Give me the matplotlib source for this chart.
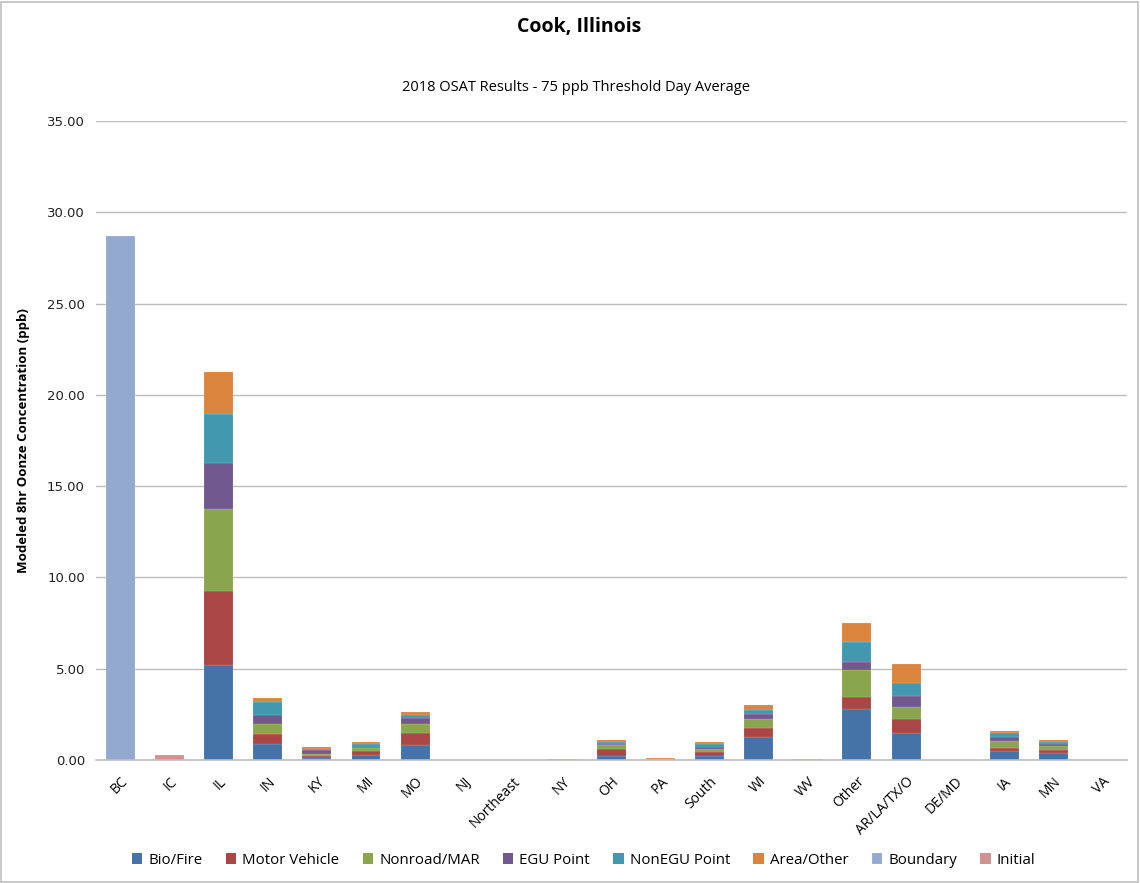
import matplotlib.pyplot as plt
import numpy as np
from matplotlib.patches import Rectangle

regions = ["BC", "IC", "IL", "IN", "KY", "MI", "MO", "NJ", "Northeast", "NY", "OH",
           "PA", "South", "WI", "WV", "Other", "AR/LA/TX/O", "DE/MD", "IA", "MN", "VA"]

bio_fire = [0, 0, 5.18, 0.86, 0.13, 0.26, 0.80, 0, 0, 0.01, 0.22, 0.01, 0.22, 1.28, 0.01, 2.78, 1.50, 0, 0.51, 0.40, 0]
motor_vehicle = [0, 0, 4.09, 0.58, 0.11, 0.24, 0.68, 0, 0, 0.01, 0.38, 0.01, 0.24, 0.49, 0.01, 0.67, 0.75, 0, 0.13, 0.16, 0]
nonroad_mar = [0, 0, 4.49, 0.51, 0.09, 0.13, 0.47, 0, 0, 0.01, 0.22, 0.01, 0.15, 0.46, 0.01, 1.46, 0.63, 0, 0.40, 0.21, 0]
egu_point = [0, 0, 2.52, 0.50, 0.22, 0.09, 0.37, 0, 0, 0.02, 0.07, 0.01, 0.11, 0.31, 0.02, 0.47, 0.64, 0, 0.24, 0.12, 0]
nonegu_point = [0, 0, 2.68, 0.74, 0.07, 0.18, 0.16, 0, 0, 0.01, 0.11, 0.01, 0.18, 0.22, 0.01, 1.06, 0.71, 0, 0.22, 0.11, 0]
area_other = [0, 0, 2.29, 0.22, 0.09, 0.09, 0.15, 0, 0, 0.01, 0.09, 0.04, 0.09, 0.24, 0.01, 1.04, 1.01, 0, 0.07, 0.10, 0]
boundary = [28.7, 0, 0, 0, 0, 0, 0, 0, 0, 0, 0, 0, 0, 0, 0, 0, 0, 0, 0, 0, 0]
initial = [0, 0.28, 0, 0, 0, 0, 0, 0, 0, 0, 0, 0, 0, 0, 0, 0, 0, 0, 0, 0, 0]

series = [
    ("Bio/Fire", bio_fire, "#4572A7"),
    ("Motor Vehicle", motor_vehicle, "#AA4643"),
    ("Nonroad/MAR", nonroad_mar, "#89A54E"),
    ("EGU Point", egu_point, "#71588F"),
    ("NonEGU Point", nonegu_point, "#4198AF"),
    ("Area/Other", area_other, "#DB843D"),
    ("Boundary", boundary, "#93A9CF"),
    ("Initial", initial, "#D19392"),
]

fig = plt.figure(figsize=(11.4, 8.83), dpi=100)
ax = fig.add_axes([0.0842, 0.1393, 0.9044, 0.7237])

x = np.arange(len(regions))
bottom = np.zeros(len(regions))
for name, vals, col in series:
    vals = np.array(vals)
    edges = [(1, 1, 1, 0.35) if v > 0 else (1, 1, 1, 0) for v in vals]
    ax.bar(x, vals, 0.59, bottom=bottom, color=col, label=name,
           edgecolor=edges, linewidth=0.3, zorder=3)
    bottom += vals

ax.set_xlim(-0.5, len(regions) - 0.5)
ax.set_ylim(0, 35)
ax.set_yticks(np.arange(0, 35.1, 5))
ax.set_yticklabels([f"{v:.2f}" for v in np.arange(0, 35.1, 5)], fontsize=9.5,
                   family="DejaVu Sans", color="#222222")
ax.yaxis.grid(True, color="#bdbdbd", linewidth=1, zorder=0)
ax.set_axisbelow(True)
for s in ["top", "right", "left"]:
    ax.spines[s].set_visible(False)
ax.spines["bottom"].set_color("#bdbdbd")
ax.spines["bottom"].set_linewidth(1.2)
ax.spines["bottom"].set_zorder(4)
ax.tick_params(axis="both", length=0)
ax.tick_params(axis="y", pad=8)

ax.set_xticks(x)
ax.set_xticklabels(regions, rotation=45, ha="right", rotation_mode="anchor",
                   fontsize=10, family="Open Sans")
ax.tick_params(axis="x", pad=10)

ax.set_ylabel("Modeled 8hr Oonze Concentration (ppb)", fontsize=9.5,
              fontweight="bold", family="Open Sans", labelpad=12)

fig.text(0.508, 0.969, "Cook, Illinois", ha="center", va="center",
         fontsize=14, fontweight="bold", family="Open Sans")
fig.text(0.505, 0.901, "2018 OSAT Results - 75 ppb Threshold Day Average",
         ha="center", va="center", fontsize=10.5, family="Open Sans")

handles, labels = ax.get_legend_handles_labels()
fig.legend(handles, labels, loc="center", bbox_to_anchor=(0.512, 0.026), ncol=8,
           frameon=False, prop={"family": "Open Sans", "size": 10.8},
           handlelength=0.7, handleheight=0.7, handletextpad=0.4, columnspacing=1.55)

fig.patches.append(Rectangle((0.001, 0.001), 0.997, 0.997, transform=fig.transFigure,
                             fill=False, edgecolor="#bfbfbf", linewidth=1.2))

fig.savefig("out.png", dpi=100)
